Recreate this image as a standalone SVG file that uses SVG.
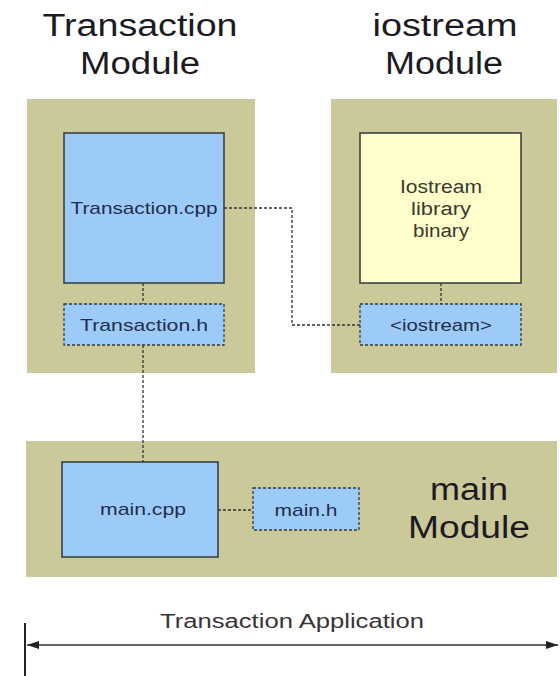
<svg xmlns="http://www.w3.org/2000/svg" width="560" height="676" viewBox="0 0 560 676">
  <defs>
    <style>
      .module { fill: #cbc89a; }
      .src { fill: #9dcbf7; stroke: #2f3a3a; stroke-width: 1.5; }
      .hdr { fill: #9dcbf7; stroke: #2f3a3a; stroke-width: 1.3; stroke-dasharray: 3 2; }
      .bin { fill: #ffffcc; stroke: #2f3a3a; stroke-width: 1.5; }
      .dep { fill: none; stroke: #333; stroke-width: 1.3; stroke-dasharray: 3 2; }
      .title { font-family: "Liberation Sans", Arial, sans-serif; font-size: 31px; fill: #1c1a22; text-anchor: middle; }
      .label { font-family: "Liberation Sans", Arial, sans-serif; font-size: 17px; fill: #1f2d4f; text-anchor: middle; }
      .binlabel { font-family: "Liberation Sans", Arial, sans-serif; font-size: 18px; fill: #3a3a30; text-anchor: middle; }
      .app { font-family: "Liberation Sans", Arial, sans-serif; font-size: 20px; fill: #3a3438; text-anchor: middle; }
    </style>
    <marker id="arrowhead" viewBox="0 0 12 8" refX="12" refY="4" markerWidth="12" markerHeight="8" markerUnits="userSpaceOnUse" orient="auto-start-reverse">
      <path d="M0,0 L12,4 L0,8 Z" fill="#222"/>
    </marker>
  </defs>

  <rect width="560" height="676" fill="#ffffff"/>

  <!-- module titles -->
  <text class="title" x="140" y="36" textLength="195" lengthAdjust="spacingAndGlyphs">Transaction</text>
  <text class="title" x="140" y="74" textLength="120" lengthAdjust="spacingAndGlyphs">Module</text>
  <text class="title" x="445" y="36" textLength="145" lengthAdjust="spacingAndGlyphs">iostream</text>
  <text class="title" x="444" y="74" textLength="118" lengthAdjust="spacingAndGlyphs">Module</text>

  <!-- module backgrounds -->
  <g id="transaction-module">
    <rect class="module" x="27" y="99" width="228" height="274"/>
  </g>
  <g id="iostream-module">
    <rect class="module" x="331" y="99" width="226" height="274"/>
  </g>
  <g id="main-module">
    <rect class="module" x="26" y="441" width="531" height="136"/>
    <text class="title" x="469" y="500" textLength="78" lengthAdjust="spacingAndGlyphs">main</text>
    <text class="title" x="469" y="538" textLength="122" lengthAdjust="spacingAndGlyphs">Module</text>
  </g>

  <!-- dependency connectors -->
  <g id="connectors">
    <path class="dep" d="M143,283 V304"/>
    <path class="dep" d="M143,345 V462"/>
    <path class="dep" d="M224,208 H292 V325 H360"/>
    <path class="dep" d="M441,283 V304"/>
    <path class="dep" d="M218,510 H253"/>
  </g>

  <!-- nodes -->
  <g id="transaction-cpp">
    <rect class="src" x="64" y="133" width="160" height="150"/>
    <text class="label" x="144" y="214" textLength="147" lengthAdjust="spacingAndGlyphs">Transaction.cpp</text>
  </g>
  <g id="transaction-h">
    <rect class="hdr" x="64" y="304" width="160" height="41"/>
    <text class="label" x="144" y="331" textLength="128" lengthAdjust="spacingAndGlyphs">Transaction.h</text>
  </g>
  <g id="iostream-binary">
    <rect class="bin" x="360" y="133" width="161" height="150"/>
    <text class="binlabel" x="441" y="193" textLength="82" lengthAdjust="spacingAndGlyphs">Iostream</text>
    <text class="binlabel" x="441" y="215" textLength="60" lengthAdjust="spacingAndGlyphs">library</text>
    <text class="binlabel" x="441" y="237" textLength="56" lengthAdjust="spacingAndGlyphs">binary</text>
  </g>
  <g id="iostream-h">
    <rect class="hdr" x="360" y="304" width="161" height="41"/>
    <text class="label" x="441" y="331" textLength="102" lengthAdjust="spacingAndGlyphs">&lt;iostream&gt;</text>
  </g>
  <g id="main-cpp">
    <rect class="src" x="62" y="462" width="156" height="95"/>
    <text class="label" x="143" y="515" textLength="86" lengthAdjust="spacingAndGlyphs">main.cpp</text>
  </g>
  <g id="main-h">
    <rect class="hdr" x="253" y="488" width="106" height="42"/>
    <text class="label" x="306" y="516" textLength="63" lengthAdjust="spacingAndGlyphs">main.h</text>
  </g>

  <!-- application extent -->
  <g id="application-span">
    <text class="app" x="292" y="628" textLength="264" lengthAdjust="spacingAndGlyphs">Transaction Application</text>
    <line x1="25" y1="623" x2="25" y2="676" stroke="#222" stroke-width="2"/>
    <line x1="27" y1="645" x2="558" y2="645" stroke="#333" stroke-width="1.5" marker-start="url(#arrowhead)" marker-end="url(#arrowhead)"/>
  </g>
</svg>
